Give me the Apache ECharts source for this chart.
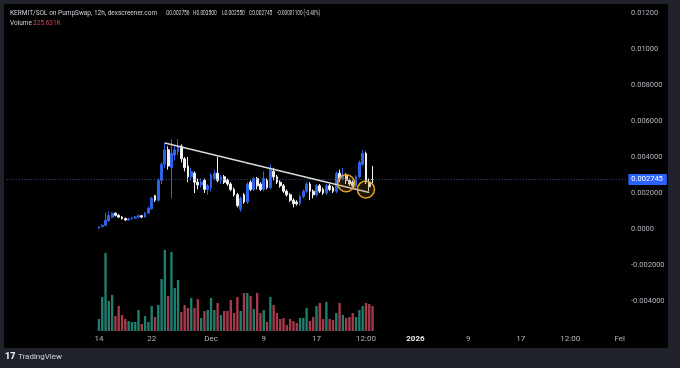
<!DOCTYPE html>
<html>
<head>
<meta charset="utf-8">
<script src="https://cdn.jsdelivr.net/npm/echarts@6/dist/echarts.min.js"></script>
<style>
  html, body { margin: 0; padding: 0; background: #1f222a; }
  #panel { position: absolute; left: 4px; top: 4px; width: 664px; height: 344px; background: #000; border-radius: 2px; }
  #chart { position: absolute; left: 0; top: 0; width: 680px; height: 368px; }
</style>
</head>
<body>
<div id="panel"></div>
<div id="chart"></div>
<script>
// ---- data ----
const firstCandleSlot = 28; // Nov 14 00:00 counted in 12h slots from Oct 31 00:00
const opens  = [0.00005,0.00012,0.0002,0.00045,0.00065,0.00088,0.00076,0.00066,0.00058,0.0005,0.00057,0.0006,0.00066,0.00074,0.00066,0.00088,0.00112,0.00185,0.0016,0.0027,0.0036,0.0044,0.0034,0.0041,0.0043,0.0046,0.0039,0.0035,0.0029,0.0031,0.0026,0.00245,0.0027,0.0022,0.0023,0.0028,0.0031,0.0027,0.0029,0.0027,0.0025,0.0022,0.0019,0.0011,0.0019,0.0015,0.0026,0.0022,0.0028,0.0025,0.0022,0.0027,0.0023,0.0032,0.0029,0.0026,0.0024,0.0021,0.0019,0.0016,0.0015,0.0014,0.0018,0.0021,0.0025,0.0021,0.0019,0.0024,0.0022,0.002,0.0024,0.0023,0.0021,0.0031,0.0028,0.003,0.0027,0.0026,0.0024,0.0029,0.0036,0.0042,0.0026,0.002756];
const closes = [0.00012,0.0002,0.00048,0.00075,0.00088,0.00076,0.00066,0.00058,0.0005,0.00057,0.00062,0.00067,0.00074,0.00066,0.00088,0.00115,0.00172,0.0016,0.0027,0.0036,0.0044,0.0035,0.0042,0.0044,0.0046,0.0039,0.0034,0.0029,0.0032,0.0026,0.00245,0.0026,0.0022,0.0024,0.003,0.0031,0.0027,0.0029,0.0026,0.0025,0.0022,0.0019,0.0013,0.0017,0.0015,0.0025,0.0022,0.0028,0.0024,0.0022,0.0028,0.0023,0.0033,0.0029,0.0026,0.0024,0.0021,0.0019,0.0016,0.0014,0.0014,0.0018,0.0021,0.0025,0.0021,0.0019,0.0024,0.0021,0.002,0.0024,0.0022,0.0021,0.0031,0.0028,0.003,0.0027,0.0025,0.0024,0.0029,0.0037,0.0042,0.0026,0.00235,0.002745];
const lows   = [0.00003,0.0001,0.00018,0.0004,0.0006,0.0007,0.0006,0.00052,0.00045,0.00046,0.00052,0.00056,0.0006,0.0006,0.00062,0.00084,0.00108,0.0015,0.00152,0.0025,0.0034,0.0033,0.0017,0.0038,0.0041,0.0037,0.0032,0.0026,0.0027,0.002,0.0022,0.0023,0.002,0.0019,0.0021,0.0027,0.0026,0.0025,0.0025,0.0024,0.0021,0.0018,0.0012,0.00095,0.0014,0.0014,0.0021,0.0021,0.0022,0.0021,0.0021,0.0022,0.0022,0.0027,0.0025,0.0023,0.002,0.0018,0.0015,0.0012,0.0013,0.0013,0.0017,0.002,0.0016,0.0017,0.0018,0.002,0.0019,0.0019,0.0021,0.002,0.002,0.0026,0.0027,0.0025,0.0024,0.0023,0.0023,0.0028,0.0035,0.0025,0.0021,0.00255];
const highs  = [0.00015,0.00026,0.0009,0.00098,0.00093,0.00092,0.00082,0.00072,0.00064,0.00063,0.00068,0.00073,0.0008,0.00078,0.00094,0.00125,0.00178,0.0019,0.0028,0.0037,0.0048,0.0046,0.005,0.0046,0.005,0.0047,0.004,0.004,0.0034,0.0032,0.0028,0.0028,0.0028,0.0025,0.0031,0.0033,0.004,0.003,0.003,0.0028,0.0026,0.0023,0.002,0.0018,0.002,0.0026,0.0027,0.0029,0.0029,0.0026,0.0032,0.0028,0.0036,0.0034,0.003,0.0027,0.0025,0.0022,0.002,0.0017,0.0016,0.0019,0.0022,0.0026,0.0026,0.0022,0.0025,0.0025,0.0023,0.0025,0.0025,0.0024,0.0032,0.0033,0.0034,0.0031,0.0028,0.0027,0.003,0.0038,0.0044,0.0043,0.0028,0.0035];
const volumesK = [156,442,1014,390,468,195,325,208,156,130,117,117,273,91,195,117,325,182,338,676,1053,455,1027,559,663,247,338,299,429,299,416,169,260,273,429,273,364,208,260,260,403,234,442,260,494,494,455,286,494,234,273,117,442,338,234,156,169,78,156,130,104,169,169,299,130,182,325,364,156,377,156,143,234,364,208,169,182,234,182,273,325,364,351,325.631];

const xTickLabels = [
  ['11-14 00','14'], ['11-22 00','22'], ['12-01 00','Dec'], ['12-09 00','9'], ['12-17 00','17'],
  ['12-24 12','12:00'], ['01-01 00','2026'], ['01-09 00','9'], ['01-17 00','17'], ['01-24 12','12:00'], ['02-01 00','Fel']
];
const priceTickValues = [-0.004, -0.002, 0, 0.002, 0.004, 0.006, 0.008, 0.010, 0.012];
const priceTickLabels = ['-0.004000','-0.002000','0.0000','0.002000','0.004000','0.006000','0.008000','0.01000','0.01200'];
const lastPrice = 0.002745;
const trendLine = [['11-24 00', 0.00478], ['12-25 00', 0.00203]];
const circles = [['12-21 12', 0.00254], ['12-24 12', 0.0022]];
const header = {
  title: 'KERMIT/SOL on PumpSwap, 12h, dexscreener.com',
  o: 'O0.002756', h: 'H0.003500', l: 'L0.002550', c: 'C0.002745', chg: '-0.00001100 (-0.40%)',
  volLabel: 'Volume', vol: '325.631K'
};

// ---- build categories (12h slots) ----
const slotCount = 189;
const categories = [];
const start = Date.UTC(2025, 9, 31, 0, 0);
for (let k = 0; k < slotCount; k++) {
  const d = new Date(start + k * 12 * 3600 * 1000);
  const mm = String(d.getUTCMonth() + 1).padStart(2, '0');
  const dd = String(d.getUTCDate()).padStart(2, '0');
  const hh = String(d.getUTCHours()).padStart(2, '0');
  categories.push(mm + '-' + dd + ' ' + hh);
}
const labelMap = new Map(xTickLabels);

const candleData = categories.map((c, k) => {
  const i = k - firstCandleSlot;
  if (i < 0 || i >= opens.length) return '-';
  return [opens[i], closes[i], lows[i], highs[i]];
});
const UP = '#2f62e6', DOWN = '#f2f3f5', VUP = '#1f7f6e', VDOWN = '#a53a4b';
const volData = categories.map((c, k) => {
  const i = k - firstCandleSlot;
  if (i < 0 || i >= volumesK.length) return '-';
  return { value: volumesK[i], itemStyle: { color: closes[i] >= opens[i] ? VUP : VDOWN } };
});

const FONT = 'Roboto';
const HF = '6.5px Roboto';
function hText(text, x, y, fill, sx) {
  return { type: 'text', x: x, y: y, scaleX: sx, scaleY: 1,
    style: { text: text, fill: fill, font: HF, verticalAlign: 'middle', align: 'left' } };
}
const chart = echarts.init(document.getElementById('chart'), null, { renderer: 'canvas' });
chart.setOption({
  backgroundColor: 'transparent',
  animation: false,
  textStyle: { fontFamily: FONT },
  grid: [
    { left: 5, right: 52, top: 13, bottom: 31 },
    { left: 5, right: 52, bottom: 37, height: 100 }
  ],
  xAxis: [
    { type: 'category', gridIndex: 0, data: categories, boundaryGap: true,
      axisLine: { show: false }, axisTick: { show: false }, axisLabel: { show: false }, splitLine: { show: false } },
    { type: 'category', gridIndex: 1, data: categories, boundaryGap: true,
      axisLine: { show: false }, axisTick: { show: false }, splitLine: { show: false },
      axisLabel: {
        show: true, margin: 4, fontSize: 8, color: '#b2b5be', fontFamily: FONT,
        interval: (idx, val) => labelMap.has(val),
        formatter: (val) => {
          const t = labelMap.get(val) || '';
          return t === '2026' ? '{b|2026}' : t;
        },
        rich: { b: { fontWeight: 'bold', color: '#e6e8ee', fontSize: 8, fontFamily: FONT } }
      } }
  ],
  yAxis: [
    { type: 'value', gridIndex: 0, position: 'right', min: -0.006, max: 0.012, interval: 0.002,
      axisLine: { show: false }, axisTick: { show: false }, splitLine: { show: false },
      axisLabel: {
        showMinLabel: false, margin: 3, align: 'left', fontSize: 7.5, color: '#b2b5be', fontFamily: FONT,
        formatter: (v) => {
          const idx = priceTickValues.findIndex(p => Math.abs(p - v) < 1e-9);
          return idx >= 0 ? priceTickLabels[idx] : '';
        }
      } },
    { type: 'value', gridIndex: 1, min: 0, max: 1300, show: false, splitLine: { show: false } }
  ],
  series: [
    { type: 'bar', xAxisIndex: 1, yAxisIndex: 1, data: volData, barWidth: '72%', z: 1 },
    { type: 'candlestick', xAxisIndex: 0, yAxisIndex: 0, data: candleData, barWidth: '70%', clip: false, z: 3,
      itemStyle: { color: UP, color0: DOWN, borderColor: UP, borderColor0: DOWN, borderWidth: 1 },
      markLine: {
        symbol: ['none', 'none'], silent: true, animation: false,
        data: [
          [ { coord: [categories[0], lastPrice],
              lineStyle: { color: '#3f5a94', type: [1, 2], width: 1 },
              label: { show: true, position: 'end', distance: 2, formatter: '0.002745',
                backgroundColor: '#2962ff', color: '#ffffff', fontSize: 7.5, fontFamily: FONT,
                padding: [2, 4, 1, 3] } },
            { coord: [categories[slotCount - 1], lastPrice] } ],
          [ { coord: trendLine[0], lineStyle: { color: '#d9d9d9', width: 1.4, type: 'solid' }, label: { show: false } },
            { coord: trendLine[1] } ]
        ]
      },
      markPoint: {
        silent: true, animation: false,
        data: circles.map(c => ({
          coord: c, symbol: 'circle', symbolSize: 17,
          itemStyle: { color: 'rgba(150,100,10,0.22)', borderColor: '#e0a12a', borderWidth: 1.5 },
          label: { show: false }
        }))
      }
    }
  ],
  graphic: [
    hText(header.title, 10, 13, '#d1d4dc', 1),
    hText(header.o, 166, 13, '#d1d4dc', 0.74),
    hText(header.h, 193, 13, '#d1d4dc', 0.74),
    hText(header.l, 222, 13, '#d1d4dc', 0.74),
    hText(header.c, 249, 13, '#d1d4dc', 0.74),
    hText(header.chg, 277, 13, '#d1d4dc', 0.7),
    hText(header.volLabel, 10, 23.5, '#d1d4dc', 1),
    hText(header.vol, 33, 23.5, '#d2475a', 1),
    { type: 'text', left: 5, top: 352, style: { text: '17', fill: '#e6e8ee', font: '900 9px Roboto' } },
    { type: 'text', left: 18, top: 352.5, style: { text: 'TradingView', fill: '#d1d4dc', font: '8px Roboto' } }
  ]
});
</script>
</body>
</html>
